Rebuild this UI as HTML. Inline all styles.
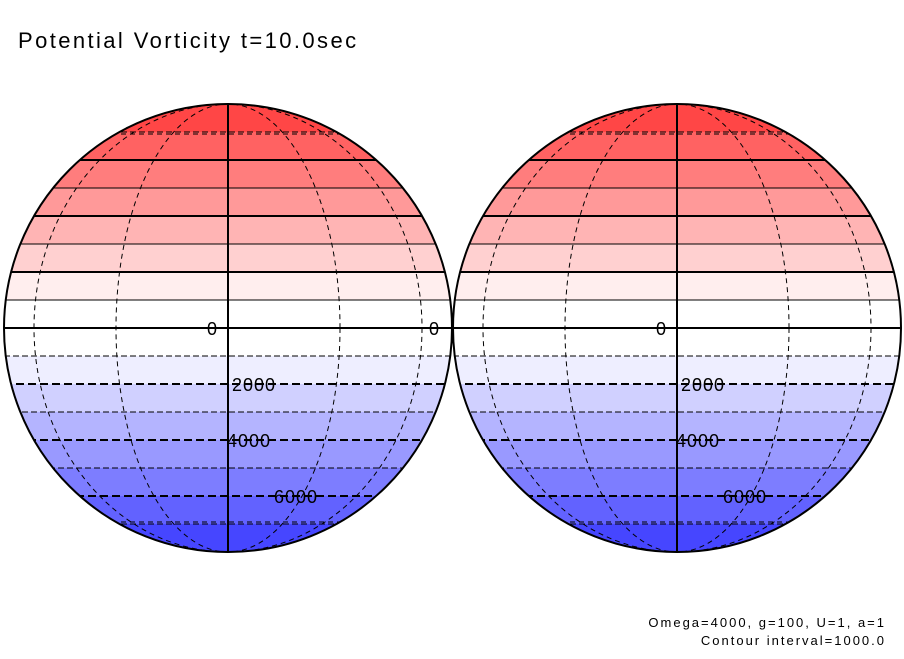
<!DOCTYPE html>
<html><head><meta charset="utf-8"><style>
body{margin:0;background:#fff;width:904px;height:654px;overflow:hidden;font-family:"Liberation Sans",sans-serif}
</style></head><body>
<svg id="chart" width="904" height="654" xmlns="http://www.w3.org/2000/svg">
<text x="18" y="48" font-size="22" letter-spacing="2.4" font-family="Liberation Sans, sans-serif">Potential Vorticity t=10.0sec</text>
<text x="886" y="627" font-size="13" letter-spacing="2" text-anchor="end" font-family="Liberation Sans, sans-serif">Omega=4000, g=100, U=1, a=1</text>
<text x="886" y="645" font-size="13" letter-spacing="2" text-anchor="end" font-family="Liberation Sans, sans-serif">Contour interval=1000.0</text>
</svg>
<script>
const levels=[7000,6000,5000,4000,3000,2000,1000,0,-1000,-2000,-3000,-4000,-5000,-6000,-7000,-8000];
const bandColors=["#ff4646","#ff6262","#ff7d7d","#ff9999","#ffb4b4","#ffd0d0","#ffeeee","#ffffff","#ffffff","#eeeeff","#d0d0ff","#b4b4ff","#9999ff","#7d7dff","#6262ff","#4646ff"];
const labelLevels=[0,-2000,-4000,-6000];
const labelX=[-21,4,-1,46];
const globes=[228,677];
const R=224, CY=328, NS="http://www.w3.org/2000/svg";
function yOf(v){return CY-(v/1000)*28;}
const svg=document.getElementById('chart');
function mk(t,a){const e=document.createElementNS(NS,t);for(const k in a)e.setAttribute(k,a[k]);return e;}
globes.forEach((cx,gi)=>{
  const g=mk('g',{});
  
  
  const cp=mk('clipPath',{id:'c'+gi});cp.appendChild(mk('circle',{cx:cx,cy:CY,r:R}));svg.appendChild(cp);
  const inner=mk('g',{'clip-path':'url(#c'+gi+')'});
  for(let i=0;i<levels.length;i++){
    const top=yOf(levels[i]+1000),bot=yOf(levels[i]);
    const r=mk('rect',{x:cx-R,y:Math.min(top,bot),width:2*R,height:Math.abs(bot-top),fill:bandColors[i]});
    
    
    inner.appendChild(r);
  }
  for(let i=1;i<levels.length;i++){
    const lv=levels[i];
    if(lv<=-8000)continue;
    const y=yOf(lv);
    const thick=(lv%2000===0);
    const a={x1:cx-R,x2:cx+R,y1:y,y2:y,stroke:'#000','stroke-width':thick?2:1};
    if(lv<0)a['stroke-dasharray']=thick?'8,4':'6,3';
    const l=mk('line',a);
    
    
    inner.appendChild(l);
  }
  const lt=mk('line',{x1:cx-R,x2:cx+R,y1:yOf(7000),y2:yOf(7000),stroke:'#000','stroke-width':1,'stroke-dasharray':'6,3'});
  
  
  inner.appendChild(lt);
  [112,194].forEach(rx=>{
    const e=mk('ellipse',{cx:cx,cy:CY,rx:rx,ry:R,fill:'none',stroke:'#000','stroke-width':1,'stroke-dasharray':'5,4'});
    
    
    inner.appendChild(e);
  });
  [-194,194].forEach(d=>{
    const l=mk('line',{x1:cx-R,x2:cx+R,y1:CY+d,y2:CY+d,stroke:'#000','stroke-width':1,'stroke-dasharray':'5,4'});
    
    
    inner.appendChild(l);
  });
  const cm=mk('line',{x1:cx,x2:cx,y1:CY-R,y2:CY+R,stroke:'#000','stroke-width':2});
  
  
  inner.appendChild(cm);
  g.appendChild(inner);
  const c=mk('circle',{cx:cx,cy:CY,r:R,fill:'none',stroke:'#000','stroke-width':2});
  
  
  g.appendChild(c);
  labelLevels.forEach((lv,k)=>{
    const t=mk('text',{x:cx+labelX[k],y:yOf(lv)+7,'font-size':18,'letter-spacing':1,'font-family':'Liberation Sans, sans-serif'});
    t.textContent=String(Math.abs(lv));
    
    
    g.appendChild(t);
  });
  if(gi===0){
    const t=mk('text',{x:cx+201,y:yOf(0)+7,'font-size':18,'font-family':'Liberation Sans, sans-serif'});
    t.textContent='0';
    
    
    g.appendChild(t);
  }
  svg.appendChild(g);
});
</script>
</body></html>
